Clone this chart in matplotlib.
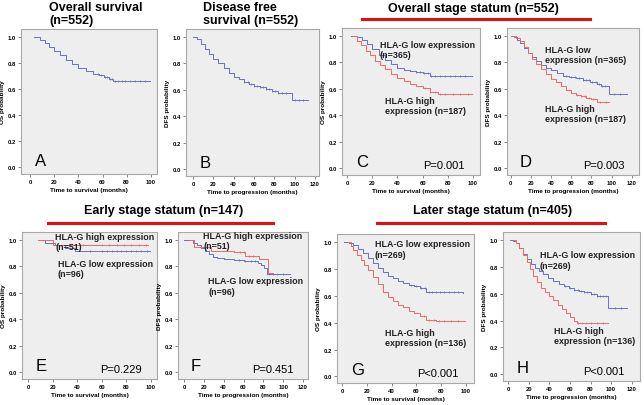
import numpy as np
import matplotlib
matplotlib.use("Agg")
import matplotlib.pyplot as plt

plt.rcParams['font.family'] = ['Liberation Sans', 'DejaVu Sans']

BLUE = '#6673bd'
RED = '#ee6868'

# ---- survival step data (time in months, survival probability) ----
A_t = [3, 8, 12, 16, 20, 25, 30, 35, 40, 46, 52, 57, 61, 65, 69, 99]
A_s = [1.0, 0.975, 0.955, 0.925, 0.895, 0.86, 0.825, 0.79, 0.76, 0.735, 0.715, 0.705, 0.695, 0.68, 0.665, 0.66]
A_c = [56, 59, 62, 64, 66, 68, 70, 73, 76, 79, 83, 87, 91, 95]

B_t = [0, 4, 8, 12, 16, 20, 25, 30, 35, 40, 45, 50, 55, 60, 66, 72, 78, 84, 90, 97, 113]
B_s = [1.0, 0.985, 0.95, 0.91, 0.87, 0.835, 0.80, 0.765, 0.73, 0.70, 0.68, 0.66, 0.645, 0.63, 0.62, 0.61, 0.595, 0.58, 0.575, 0.525, 0.525]
B_c = [50, 54, 57, 60, 63, 66, 69, 72, 75, 78, 81, 84, 88, 92, 100, 104, 108]

C_low_t = [3, 8, 12, 16, 20, 25, 30, 35, 40, 45, 50, 55, 60, 66, 99]
C_low_s = [1.0, 0.99, 0.97, 0.94, 0.905, 0.86, 0.82, 0.785, 0.76, 0.745, 0.735, 0.73, 0.72, 0.70, 0.695]
C_low_c = [55, 58, 61, 64, 67, 70, 74, 78, 82, 86, 90, 94]
C_high_t = [5, 8, 11, 15, 18, 22, 26, 30, 35, 40, 45, 50, 55, 60, 66, 72, 99]
C_high_s = [1.0, 0.96, 0.93, 0.89, 0.855, 0.81, 0.78, 0.75, 0.715, 0.685, 0.66, 0.635, 0.62, 0.605, 0.575, 0.565, 0.56]
C_high_c = [62, 66, 70, 74, 78, 84, 90, 96]

D_low_t = [0, 3, 6, 9, 13, 17, 21, 25, 30, 35, 40, 46, 52, 58, 65, 72, 79, 85, 89, 97, 115]
D_low_s = [1.0, 0.99, 0.97, 0.945, 0.91, 0.875, 0.84, 0.81, 0.78, 0.76, 0.74, 0.72, 0.70, 0.69, 0.68, 0.67, 0.655, 0.64, 0.625, 0.565, 0.565]
D_low_c = [55, 60, 64, 68, 72, 75, 78, 81, 84, 87, 90, 93, 102, 108]
D_high_t = [2, 5, 9, 13, 17, 21, 25, 30, 35, 40, 45, 50, 55, 60, 65, 70, 75, 80, 85, 97]
D_high_s = [1.0, 0.985, 0.96, 0.915, 0.87, 0.825, 0.79, 0.75, 0.71, 0.675, 0.65, 0.62, 0.595, 0.57, 0.555, 0.545, 0.535, 0.525, 0.505, 0.50]
D_high_c = [66, 70, 74, 78, 82, 88, 94]

E_high_t = [8, 20, 98]
E_high_s = [1.0, 0.962, 0.962]
E_high_c = [45, 60, 66, 72, 78, 84, 90, 96]
E_low_t = [8, 14, 22, 30, 38, 99]
E_low_s = [1.0, 0.98, 0.96, 0.94, 0.915, 0.915]
E_low_c = [50, 60, 64, 68, 72, 76, 80, 84, 88, 92, 97]

F_low_t = [0, 9, 13, 17, 21, 25, 29, 33, 40, 50, 60, 70, 75, 78, 81, 84, 107]
F_low_s = [1.0, 0.98, 0.96, 0.94, 0.92, 0.895, 0.875, 0.865, 0.855, 0.85, 0.845, 0.84, 0.825, 0.81, 0.79, 0.74, 0.74]
F_low_c = [55, 62, 68, 72, 86, 90, 94, 100]
F_high_t = [5, 10, 27, 50, 62, 76, 85, 90]
F_high_s = [1.0, 0.95, 0.92, 0.91, 0.88, 0.86, 0.75, 0.75]
F_high_c = [56, 60, 66, 70]

G_low_t = [2, 6, 9, 13, 17, 21, 25, 29, 33, 37, 41, 45, 49, 54, 58, 63, 68, 98]
G_low_s = [1.0, 0.995, 0.98, 0.95, 0.92, 0.88, 0.845, 0.81, 0.78, 0.75, 0.73, 0.71, 0.695, 0.68, 0.67, 0.655, 0.627, 0.624]
G_low_c = [56, 60, 64, 67, 70, 73, 76, 79, 82, 86, 90, 94]
G_high_t = [5, 7, 9, 12, 15, 18, 21, 25, 29, 33, 37, 41, 45, 49, 54, 58, 63, 68, 76, 99]
G_high_s = [1.0, 0.97, 0.945, 0.905, 0.87, 0.83, 0.79, 0.74, 0.685, 0.63, 0.59, 0.565, 0.535, 0.515, 0.49, 0.47, 0.45, 0.42, 0.41, 0.41]
G_high_c = [66, 70, 74, 78, 82, 88, 94]

H_low_t = [1.5, 5, 8, 11, 14, 18, 22, 26, 30, 34, 39, 44, 49, 54, 59, 64, 69, 74, 80, 86, 97, 115]
H_low_s = [1.0, 0.99, 0.975, 0.94, 0.90, 0.86, 0.825, 0.795, 0.77, 0.745, 0.72, 0.695, 0.675, 0.655, 0.645, 0.63, 0.62, 0.61, 0.595, 0.582, 0.495, 0.495]
H_low_c = [55, 60, 64, 68, 71, 74, 77, 80, 83, 86, 89, 92, 95, 104, 110]
H_high_t = [5, 8, 11, 14, 18, 21, 24, 28, 32, 36, 40, 44, 48, 52, 56, 60, 64, 67, 97]
H_high_s = [1.0, 0.975, 0.94, 0.89, 0.835, 0.785, 0.735, 0.69, 0.645, 0.615, 0.585, 0.555, 0.52, 0.485, 0.455, 0.43, 0.40, 0.382, 0.38]
H_high_c = [68, 72, 76, 80, 86, 92]

OS_ticks = [0, 20, 40, 60, 80, 100]
DFS_ticks = [0, 20, 40, 60, 80, 100, 120]
Y_ticks = [0.0, 0.2, 0.4, 0.6, 0.8, 1.0]

fig = plt.figure(figsize=(6.44, 4.06), dpi=100)


def km(ax, t, s, c, color):
    ax.plot(t, s, drawstyle='steps-post', color=color, lw=0.7)
    t = np.asarray(t)
    s = np.asarray(s)
    idx = np.searchsorted(t, c, side='right') - 1
    ax.plot(c, s[idx], ls='none', marker='|', ms=1.8, mew=0.6, color=color)


def setup(rect, xlim, xticks, kind, letter, pval=None):
    ax = fig.add_axes(rect)
    ax.set_facecolor('#eeeeee')
    for sp in ax.spines.values():
        sp.set_color('#a8a8a8')
        sp.set_linewidth(0.8)
    ax.set_xlim(*xlim)
    ax.set_ylim(-0.05, 1.06)
    ax.set_xticks(xticks)
    ax.set_yticks(Y_ticks)
    ax.set_yticklabels(['%.1f' % v for v in Y_ticks])
    ax.tick_params(labelsize=4.2, length=2, width=0.5, pad=1.5, color='#555555')
    for lab in ax.get_xticklabels() + ax.get_yticklabels():
        lab.set_fontweight('bold')
    if kind == 'OS':
        ax.set_xlabel('Time to survival (months)', fontsize=4.6, fontweight='bold', labelpad=2)
        ax.set_ylabel('OS probability', fontsize=4.6, fontweight='bold', labelpad=2)
    else:
        ax.set_xlabel('Time to progression (months)', fontsize=4.6, fontweight='bold', labelpad=2)
        ax.set_ylabel('DFS probability', fontsize=4.6, fontweight='bold', labelpad=2)
    ax.text(0.1, 0.04, letter, transform=ax.transAxes, fontsize=12, ha='left', va='bottom')
    if pval:
        ax.text(0.89, 0.035, pval, transform=ax.transAxes, fontsize=8, ha='right', va='bottom')
    return ax


lab = dict(fontsize=6.4, fontweight='bold', ha='left', va='top', color='#222222')

# A
ax = setup([0.0326, 0.569, 0.211, 0.357], (-7.5, 105), OS_ticks, 'OS', 'A')
km(ax, A_t, A_s, A_c, BLUE)

# B
ax = setup([0.2888, 0.564, 0.2065, 0.362], (-7, 124), DFS_ticks, 'DFS', 'B')
km(ax, B_t, B_s, B_c, BLUE)

# C
ax = setup([0.531, 0.5665, 0.2143, 0.362], (-4, 105.5), OS_ticks, 'OS', 'C', 'P=0.001')
km(ax, C_low_t, C_low_s, C_low_c, BLUE)
km(ax, C_high_t, C_high_s, C_high_c, RED)
ax.text(26, 0.97, 'HLA-G low expression\n(n=365)', **lab)
ax.text(30, 0.55, 'HLA-G high\nexpression (n=187)', **lab)

# D
ax = setup([0.787, 0.5665, 0.205, 0.362], (-4, 127), DFS_ticks, 'DFS', 'D', 'P=0.003')
km(ax, D_low_t, D_low_s, D_low_c, BLUE)
km(ax, D_high_t, D_high_s, D_high_c, RED)
ax.text(34, 0.935, 'HLA-G low\nexpression (n=365)', **lab)
ax.text(34, 0.49, 'HLA-G high\nexpression (n=187)', **lab)

# E
ax = setup([0.0342, 0.064, 0.2096, 0.362], (-5, 105), OS_ticks, 'OS', 'E', 'P=0.229')
km(ax, E_low_t, E_low_s, E_low_c, BLUE)
km(ax, E_high_t, E_high_s, E_high_c, RED)
ax.text(22, 1.063, 'HLA-G high expression\n(n=51)', **lab)
ax.text(24, 0.86, 'HLA-G low expression\n(n=96)', **lab)

# F
ax = setup([0.2764, 0.064, 0.2019, 0.362], (-6, 125), DFS_ticks, 'DFS', 'F', 'P=0.451')
km(ax, F_low_t, F_low_s, F_low_c, BLUE)
km(ax, F_high_t, F_high_s, F_high_c, RED)
ax.text(19.5, 1.07, 'HLA-G high expression\n(n=51)', **lab)
ax.text(24.6, 0.727, 'HLA-G low expression\n(n=96)', **lab)

# G
ax = setup([0.5233, 0.054, 0.2127, 0.367], (-4, 106.5), OS_ticks, 'OS', 'G', 'P<0.001')
km(ax, G_low_t, G_low_s, G_low_c, BLUE)
km(ax, G_high_t, G_high_s, G_high_c, RED)
ax.text(26.5, 1.02, 'HLA-G low expression\n(n=269)', **lab)
ax.text(34.6, 0.36, 'HLA-G high\nexpression (n=136)', **lab)

# H
ax = setup([0.781, 0.059, 0.2127, 0.367], (-5, 128), DFS_ticks, 'DFS', 'H', 'P<0.001')
km(ax, H_low_t, H_low_s, H_low_c, BLUE)
km(ax, H_high_t, H_high_s, H_high_c, RED)
ax.text(30.7, 0.924, 'HLA-G low expression\n(n=269)', **lab)
ax.text(45, 0.36, 'HLA-G high\nexpression (n=136)', **lab)

# titles
tt = dict(fontsize=9, fontweight='bold', va='top', linespacing=1.15)
fig.text(49 / 644, 1 - 2 / 406, 'Overall survival\n(n=552)', ha='left', **tt)
fig.text(203 / 644, 1 - 2 / 406, 'Disease free\nsurvival (n=552)', ha='left', **tt)
fig.text(473 / 644, 1 - 3 / 406, 'Overall stage statum (n=552)', ha='center', **tt)
fig.text(164 / 644, 1 - 205 / 406, 'Early stage statum (n=147)', ha='center', **tt)
fig.text(493 / 644, 1 - 205 / 406, 'Later stage statum (n=405)', ha='center', **tt)

for x0, x1, y in [(362, 590, 20), (48, 273, 224), (377, 605, 224)]:
    fig.add_artist(plt.Line2D([x0 / 644, x1 / 644], [1 - y / 406, 1 - y / 406],
                              color='#e01010', lw=2.2))

fig.savefig('out.png', dpi=100)
